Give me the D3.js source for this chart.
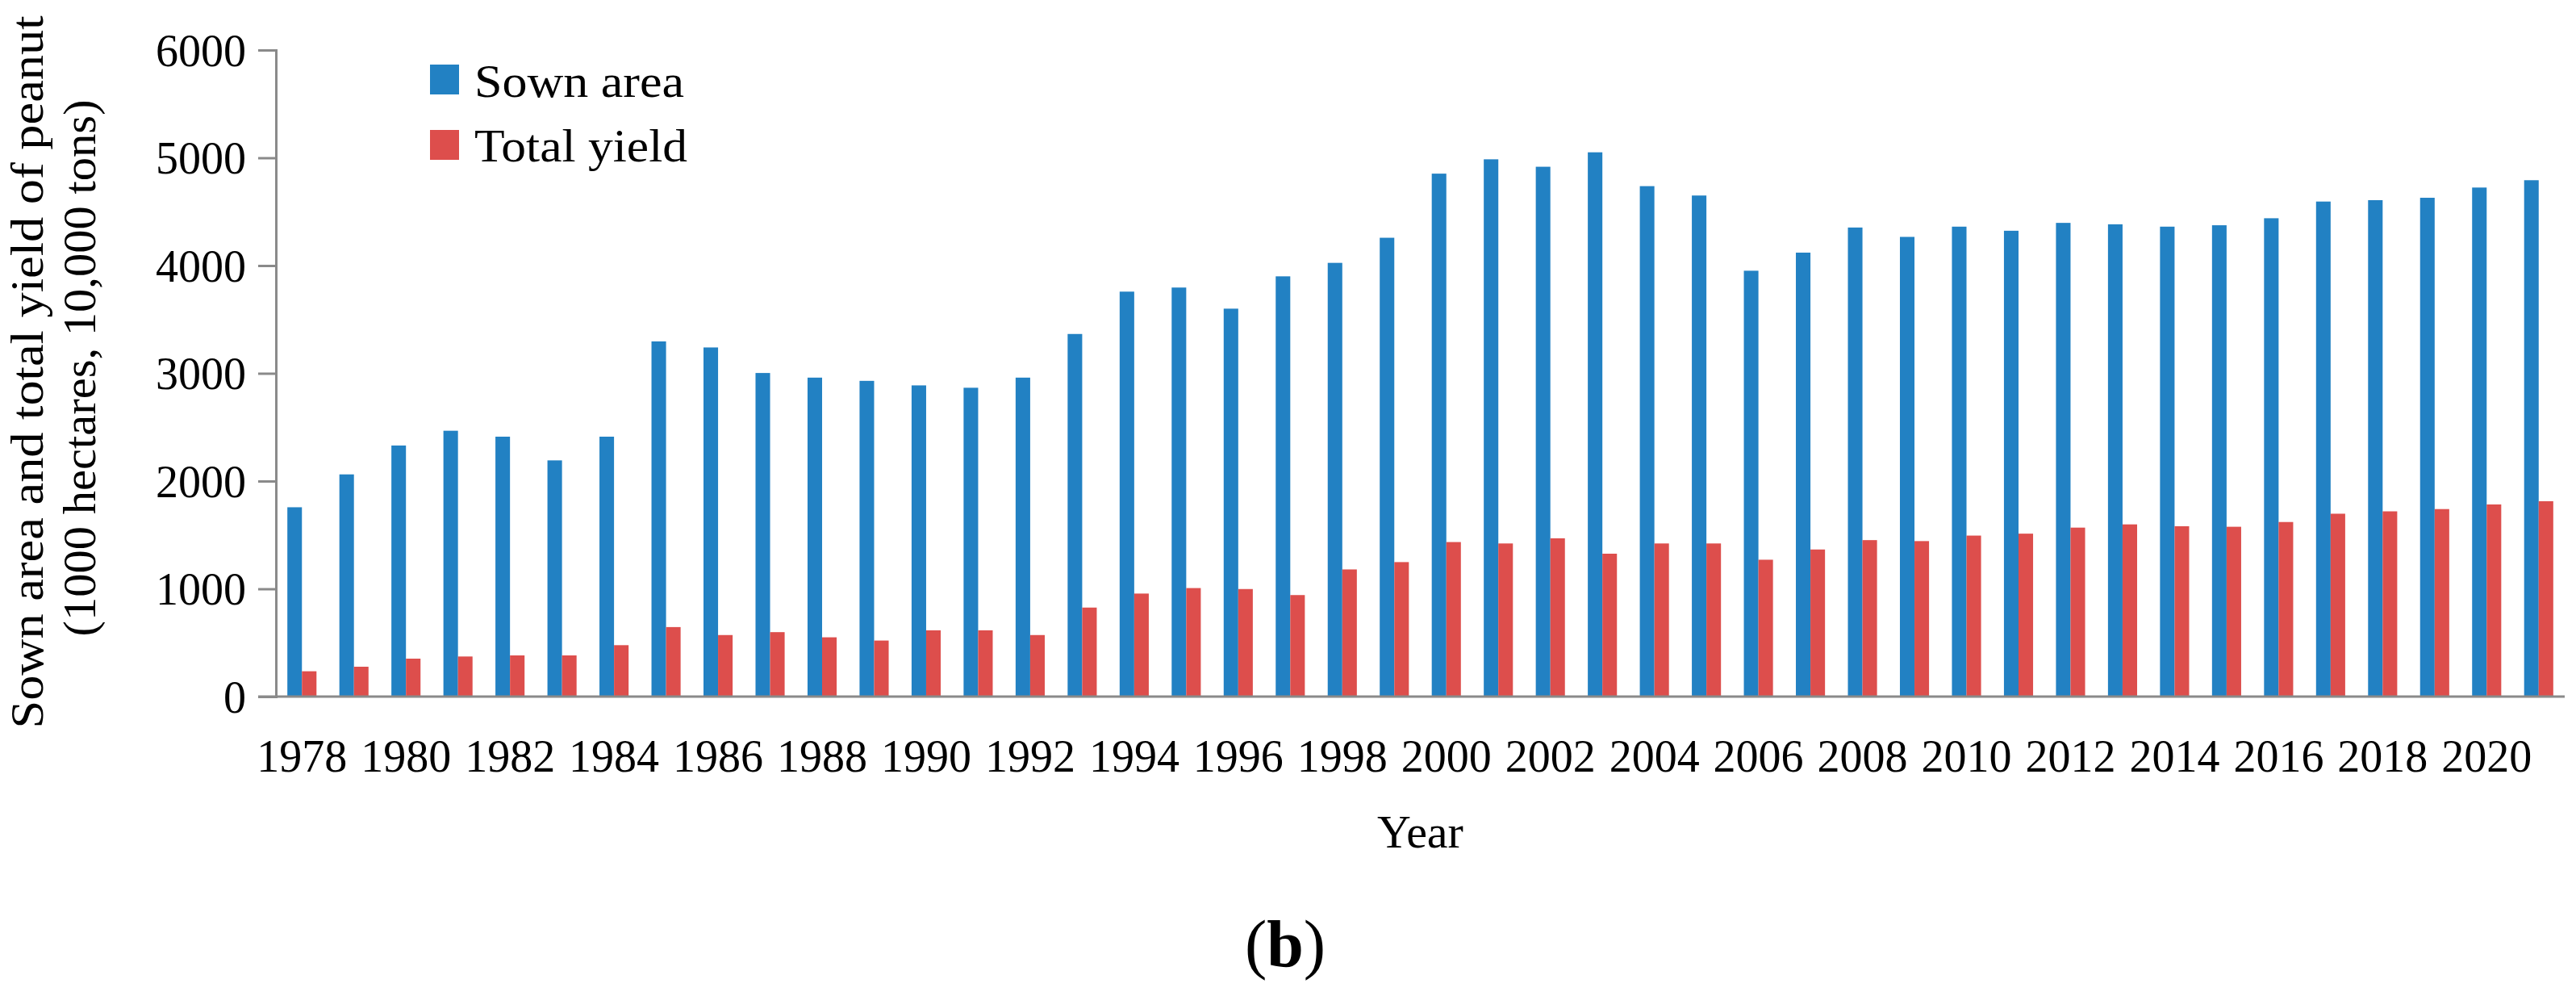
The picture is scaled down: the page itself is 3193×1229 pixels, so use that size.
<!DOCTYPE html>
<html>
<head>
<meta charset="utf-8">
<script src="https://cdn.jsdelivr.net/npm/d3@7"></script>
<style>
  body { margin: 0; background: #ffffff; }
  text { font-family: "Liberation Serif", "Times New Roman", serif; fill: #000; }
</style>
</head>
<body>
<svg id="chart" width="3193" height="1229"></svg>
<script>
"use strict";

// === Data ===
const years = [
  "1978", "1979", "1980", "1981", "1982", "1983", "1984", "1985", "1986", "1987", "1988",
  "1989", "1990", "1991", "1992", "1993", "1994", "1995", "1996", "1997", "1998", "1999",
  "2000", "2001", "2002", "2003", "2004", "2005", "2006", "2007", "2008", "2009", "2010",
  "2011", "2012", "2013", "2014", "2015", "2016", "2017", "2018", "2019", "2020", "2021"
];
const sownArea = [
  1757, 2062, 2330, 2467, 2412, 2192, 2412, 3296, 3240, 3003, 2960,
  2930, 2888, 2866, 2960, 3365, 3758, 3796, 3600, 3900, 4025, 4258,
  4853, 4986, 4917, 5051, 4737, 4650, 3952, 4120, 4353, 4266, 4361,
  4323, 4396, 4383, 4361, 4374, 4439, 4594, 4607, 4629, 4724, 4792
];
const totalYield = [
  235, 277, 352, 372, 382, 382, 477, 645, 571, 598, 550,
  520, 615, 615, 571, 826, 956, 1007, 998, 942, 1180, 1248,
  1434, 1421, 1469, 1326, 1421, 1421, 1270, 1365, 1452, 1443, 1494,
  1512, 1568, 1598, 1581, 1576, 1620, 1697, 1719, 1740, 1783, 1813
];
const seriesNames = ["Sown area", "Total yield"];
const seriesColors = ["#2281c3", "#dd4e4c"];
const xTickLabels = [
  "1978", "1980", "1982", "1984", "1986", "1988", "1990", "1992", "1994", "1996", "1998",
  "2000", "2002", "2004", "2006", "2008", "2010", "2012", "2014", "2016", "2018", "2020"
];
const yTicks = [0, 1000, 2000, 3000, 4000, 5000, 6000];

const svg = d3.select("#chart");
const plotLeft = 342, plotRight = 3179, plotTop = 62, plotBottom = 863;
const axisColor = "#8a8a8a";
const serif = "'Liberation Serif', 'Times New Roman', serif";

// === Scales ===
const x = d3.scaleBand().domain(years).range([plotLeft, plotRight])
  .paddingInner(0.44).paddingOuter(0.22);
const xSub = d3.scaleBand().domain(seriesNames).range([0, x.bandwidth()]);
const y = d3.scaleLinear().domain([0, 6000]).range([plotBottom, plotTop]);

const rows = years.map((yr, i) => ({ year: yr, values: [sownArea[i], totalYield[i]] }));

// === Bars ===
const groups = svg.append("g").selectAll("g").data(rows).join("g")
  .attr("transform", d => `translate(${x(d.year)},0)`);
groups.selectAll("rect")
  .data(d => d.values.map((v, k) => ({ name: seriesNames[k], value: v, k: k })))
  .join("rect")
  .attr("x", d => xSub(d.name))
  .attr("y", d => y(d.value))
  .attr("width", xSub.bandwidth())
  .attr("height", d => y(0) - y(d.value))
  .attr("fill", d => seriesColors[d.k]);

// === Y axis ===
const yAxis = svg.append("g").attr("transform", `translate(${plotLeft},0)`)
  .call(d3.axisLeft(y).tickValues(yTicks).tickFormat(d3.format("d"))
    .tickSize(22).tickSizeOuter(22).tickPadding(15));
yAxis.selectAll("path, line").attr("stroke", axisColor).attr("stroke-width", 3);
yAxis.selectAll("text")
  .attr("font-size", 56).attr("fill", "#000").attr("dy", "0.34em")
  .style("font-family", serif);

// === X axis (line + labels, no ticks) ===
const xAxis = svg.append("g").attr("transform", `translate(0,${plotBottom})`)
  .call(d3.axisBottom(x).tickValues(xTickLabels).tickSize(0).tickSizeOuter(0).tickPadding(93));
xAxis.select(".domain").attr("stroke", axisColor).attr("stroke-width", 3)
  .attr("d", `M${plotLeft - 22},0H${plotRight}`);
xAxis.selectAll("text")
  .attr("font-size", 56).attr("fill", "#000").attr("dy", "0")
  .style("font-family", serif);

// === Axis titles ===
// the original title font is wider than Times, so stretch to the measured lengths
svg.append("text").attr("transform", "translate(53,461) rotate(-90)")
  .attr("text-anchor", "middle").attr("font-size", 57)
  .attr("textLength", 883).attr("lengthAdjust", "spacingAndGlyphs")
  .text("Sown area and total yield of peanut");
svg.append("text").attr("transform", "translate(118,456) rotate(-90)")
  .attr("text-anchor", "middle").attr("font-size", 57)
  .attr("textLength", 665).attr("lengthAdjust", "spacingAndGlyphs")
  .text("(1000 hectares, 10,000 tons)");

svg.append("text").attr("x", (plotLeft + plotRight) / 2).attr("y", 1050)
  .attr("text-anchor", "middle").attr("font-size", 58).text("Year");

// === Legend ===
const legendLengths = [260, 264];
seriesNames.forEach((name, k) => {
  svg.append("rect").attr("x", 533).attr("y", 80 + k * 81)
    .attr("width", 36).attr("height", 37).attr("fill", seriesColors[k]);
  svg.append("text").attr("x", 588).attr("y", 120 + k * 80)
    .attr("font-size", 58)
    .attr("textLength", legendLengths[k]).attr("lengthAdjust", "spacingAndGlyphs")
    .text(name);
});

// === Panel label ===
const panel = svg.append("text").attr("x", 1593).attr("y", 1197)
  .attr("text-anchor", "middle").attr("font-size", 82);
panel.append("tspan").text("(");
panel.append("tspan").attr("font-weight", "bold").text("b");
panel.append("tspan").text(")");
</script>
</body>
</html>
